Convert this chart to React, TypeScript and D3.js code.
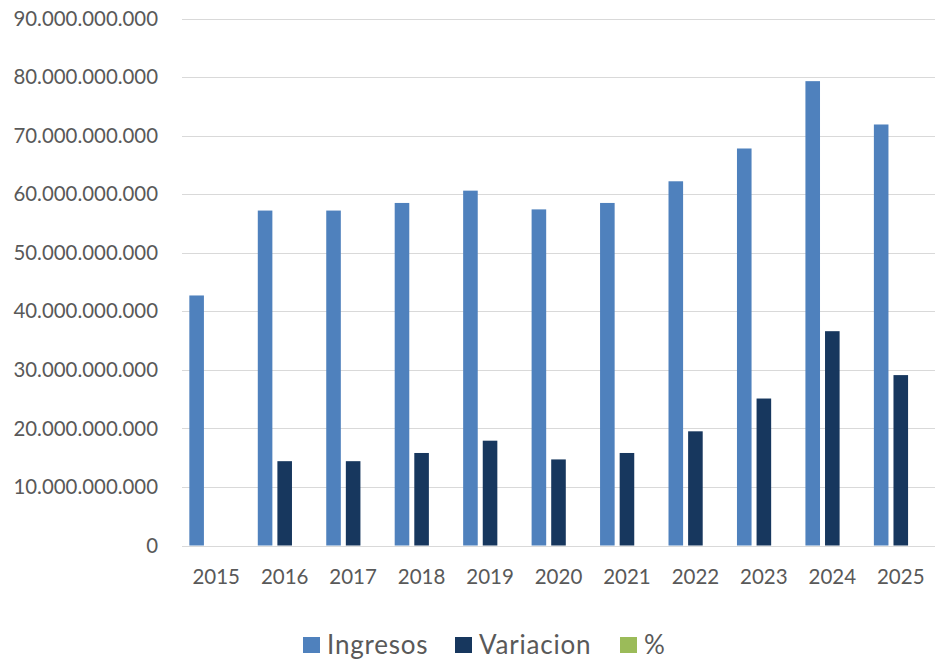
import React, { useEffect, useRef } from 'react';
import * as d3 from 'd3';

const years = ['2015', '2016', '2017', '2018', '2019', '2020', '2021', '2022', '2023', '2024', '2025'];
const ingresos = [42.7e9, 57.2e9, 57.2e9, 58.5e9, 60.6e9, 57.4e9, 58.5e9, 62.2e9, 67.8e9, 79.3e9, 71.9e9];
const variacion = [0, 14.4e9, 14.4e9, 15.8e9, 17.9e9, 14.7e9, 15.8e9, 19.5e9, 25.1e9, 36.6e9, 29.1e9];
const porcentaje = [0, 0, 0, 0, 0, 0, 0, 0, 0, 0, 0];
const seriesNames = ['Ingresos', 'Variacion', '%'];
const seriesColors = ['#4F81BD', '#17375E', '#9BBB59'];
const yTicks = [0, 10e9, 20e9, 30e9, 40e9, 50e9, 60e9, 70e9, 80e9, 90e9];

const W = 935;
const H = 661;
const FONT = 'Lato, "Open Sans", sans-serif';

const App: React.FC = () => {
  const svgRef = useRef<SVGSVGElement>(null);

  useEffect(() => {
    if (!svgRef.current) return;
    const svg = d3.select(svgRef.current);
    svg.selectAll('*').remove();

    const values = [ingresos, variacion, porcentaje];

    const x0 = d3.scaleBand<string>().domain(years).range([182, 935]);
    const x1 = d3.scaleBand<string>()
      .domain(seriesNames)
      .range([0, x0.bandwidth()])
      .paddingInner(0.256)
      .paddingOuter(0.374);
    const y = d3.scaleLinear().domain([0, 90e9]).range([545.5, 18.5]);

    const fmt = d3.formatLocale({ decimal: ',', thousands: '.', grouping: [3], currency: ['', ''] }).format(',d');

    // gridlines
    svg.append('g')
      .selectAll('line')
      .data(yTicks)
      .join('line')
      .attr('x1', 182)
      .attr('x2', 935)
      .attr('y1', d => Math.round(y(d)) + 0.5)
      .attr('y2', d => Math.round(y(d)) + 0.5)
      .attr('stroke', '#D9D9D9')
      .attr('stroke-width', 1);

    // y labels
    svg.append('g')
      .selectAll('text')
      .data(yTicks)
      .join('text')
      .attr('x', 158)
      .attr('y', d => y(d))
      .attr('dy', '0.35em')
      .attr('text-anchor', 'end')
      .attr('font-family', FONT)
      .attr('font-size', 20.4)
      .attr('fill', '#595959')
      .text(d => fmt(d));

    // bars
    const groups = svg.append('g')
      .selectAll('g')
      .data(years)
      .join('g')
      .attr('transform', d => `translate(${x0(d)},0)`);

    groups.selectAll('rect')
      .data((_, i) => seriesNames.map((s, k) => ({ s, k, v: values[k][i] })))
      .join('rect')
      .attr('x', d => x1(d.s)!)
      .attr('width', x1.bandwidth())
      .attr('y', d => y(d.v))
      .attr('height', d => y(0) - y(d.v))
      .attr('fill', d => seriesColors[d.k]);

    // x labels
    svg.append('g')
      .selectAll('text')
      .data(years)
      .join('text')
      .attr('x', d => x0(d)! + x0.bandwidth() / 2)
      .attr('y', 577)
      .attr('dy', '0.35em')
      .attr('text-anchor', 'middle')
      .attr('font-family', FONT)
      .attr('font-size', 20.5)
      .attr('fill', '#595959')
      .text(d => d);

    // legend
    const legendX = [303, 455, 620];
    const legend = svg.append('g')
      .selectAll('g')
      .data(seriesNames)
      .join('g')
      .attr('transform', (_, i) => `translate(${legendX[i]},637)`);
    legend.append('rect')
      .attr('width', 17)
      .attr('height', 16)
      .attr('fill', (_, i) => seriesColors[i]);
    legend.append('text')
      .attr('x', 24)
      .attr('y', 8)
      .attr('dy', '0.35em')
      .attr('font-family', FONT)
      .attr('font-size', 26)
      .attr('letter-spacing', 0.8)
      .attr('fill', '#595959')
      .text(d => d);
  }, []);

  return (
    <svg
      ref={svgRef}
      width={W}
      height={H}
      style={{ position: 'absolute', left: 0, top: 0, background: '#fff' }}
    />
  );
};

export default App;
